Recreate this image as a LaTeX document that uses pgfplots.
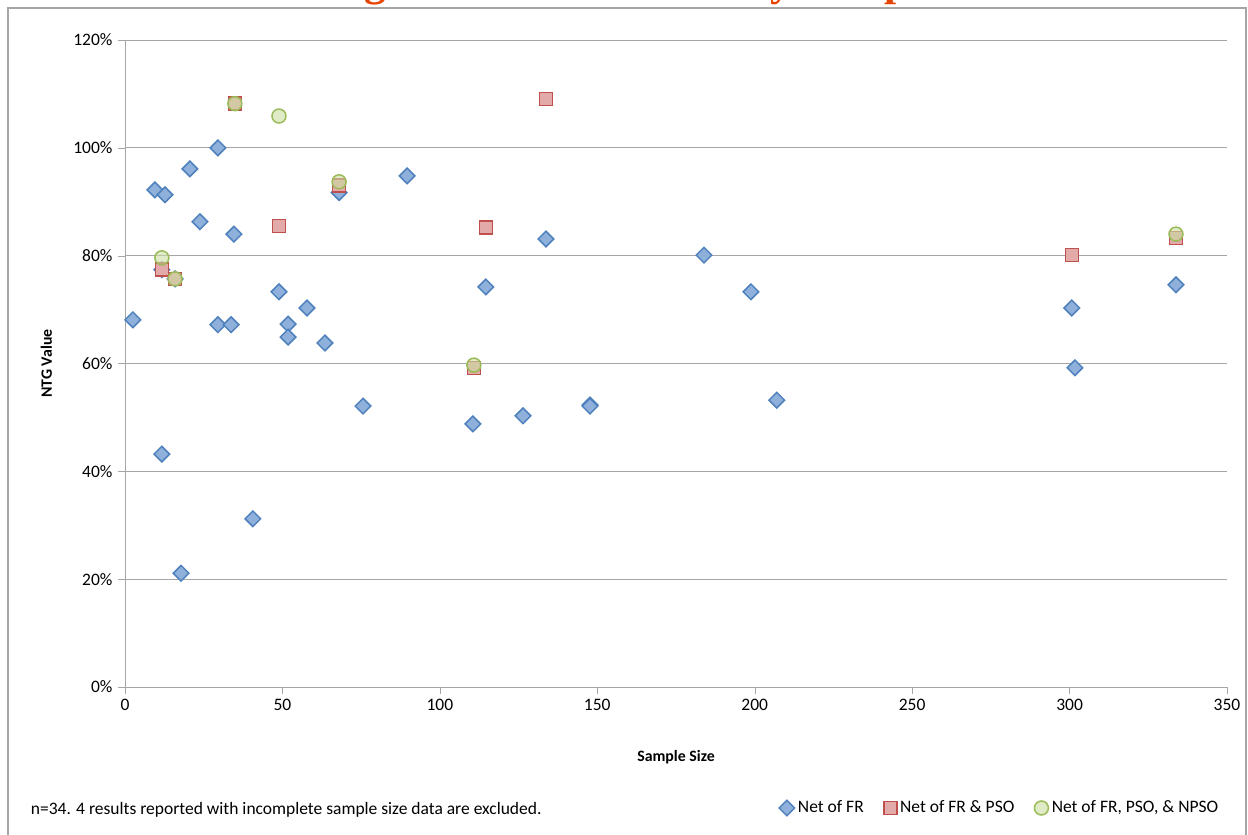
\documentclass[border=0pt]{standalone}
\usepackage{pgfplots}
\pgfplotsset{compat=1.18}
\usepackage{fontspec}
\setmainfont{Carlito}
\newfontfamily\serifx{Liberation Serif}
\definecolor{bfill}{HTML}{8EB0DB}
\definecolor{bedge}{HTML}{4F81BD}
\definecolor{rfill}{HTML}{E3AAAA}
\definecolor{redge}{HTML}{C0504D}
\definecolor{gfill}{HTML}{C9DCA0}
\definecolor{gedge}{HTML}{9BBB59}
\begin{document}
\begin{tikzpicture}
\begin{scope}[x=0.6pt,y=0.6pt]
\useasboundingbox (0,0) rectangle (1248,834);
\begin{scope}
\clip (0,0) rectangle (1248,834);
\draw[gray!70,line width=1.2pt] (8,-5) -- (8,826) -- (1246,826) -- (1246,-5);
\node[anchor=base,text=orange!60!red!90!black,font=\serifx\fontsize{26}{28}\selectfont\bfseries] at (676,838) {Figure 4: NTG Values by Sample Size};
\end{scope}
\node[anchor=base west,font=\fontsize{10.5}{12}\selectfont] at (25,20) {n=34. 4 results reported with incomplete sample size data are excluded.};
\end{scope}
\begin{axis}[at={(75pt,88.2pt)},anchor=south west,scale only axis,
 width=661.2pt,height=388.2pt,
 xmin=0,xmax=350,ymin=0,ymax=120,
 xtick={0,50,...,350},ytick={0,20,...,120},
 yticklabel={\pgfmathprintnumber{\tick}\%},
 /pgf/number format/assume math mode=true,
 ymajorgrids,grid style={gray!70,line width=0.6pt},
 axis line style={gray!70},axis x line*=bottom,axis y line*=left,
 x axis line style={-},y axis line style={-},
 tick style={gray!70},major tick length=4pt,tick align=outside,
 ticklabel style={font=\fontsize{10.5}{12}\selectfont},
 xlabel={\textbf{Sample Size}},ylabel={\textbf{NTG Value}},
 label style={font=\fontsize{9.5}{11}\selectfont},
 xlabel style={yshift=-17pt},ylabel style={yshift=6pt},
 clip=false,
 legend style={at={(1,-0.187)},anchor=east,draw=none,fill=none,
   legend columns=3,font=\fontsize{10.5}{12}\selectfont,
   /tikz/every even column/.append style={column sep=10pt}},
 legend cell align=left,
]
\addplot[only marks,mark=square*,mark size=3.3pt,mark options={rotate=45},draw=bedge,fill=bfill,line width=0.9pt] coordinates {
(2.5,68.1)(9.5,92.2)(12.7,91.3)(11.7,43.2)(17.8,21.1)(20.6,96.1)(23.8,86.3)
(29.5,100)(29.5,67.2)(33.7,67.2)(34.6,84)(40.6,31.2)(48.9,73.3)(51.8,67.3)
(51.8,64.9)(57.8,70.3)(63.5,63.8)(68,91.7)(75.6,52.1)(89.6,94.8)(110.5,48.8)
(114.6,74.2)(126.4,50.3)(133.7,83.1)(147.7,52.3)(147.7,52.1)(183.9,80.1)(198.8,73.3)
(207,53.2)(300.7,70.3)(301.7,59.2)(333.8,74.6)(11.7,77.4)(15.9,75.7)};
\addlegendentry{Net of FR}
\addplot[only marks,mark=square*,mark size=3.9pt,draw=redge,fill=rfill,line width=0.9pt] coordinates {
(11.7,77.4)(15.9,75.7)(34.9,108.2)(48.9,85.5)(68,93)(110.8,59.2)(114.6,85.2)
(133.7,109.1)(300.7,80.1)(333.8,83.3)};
\addlegendentry{Net of FR \& PSO}
\addplot[only marks,mark=*,mark size=4.2pt,draw=gedge,fill=gfill,fill opacity=0.6,line width=0.9pt] coordinates {
(11.7,79.6)(15.9,75.7)(34.9,108.2)(48.9,105.9)(68,93.7)(110.8,59.7)(333.8,84)};
\addlegendentry{Net of FR, PSO, \& NPSO}
\end{axis}
\end{tikzpicture}
\end{document}
